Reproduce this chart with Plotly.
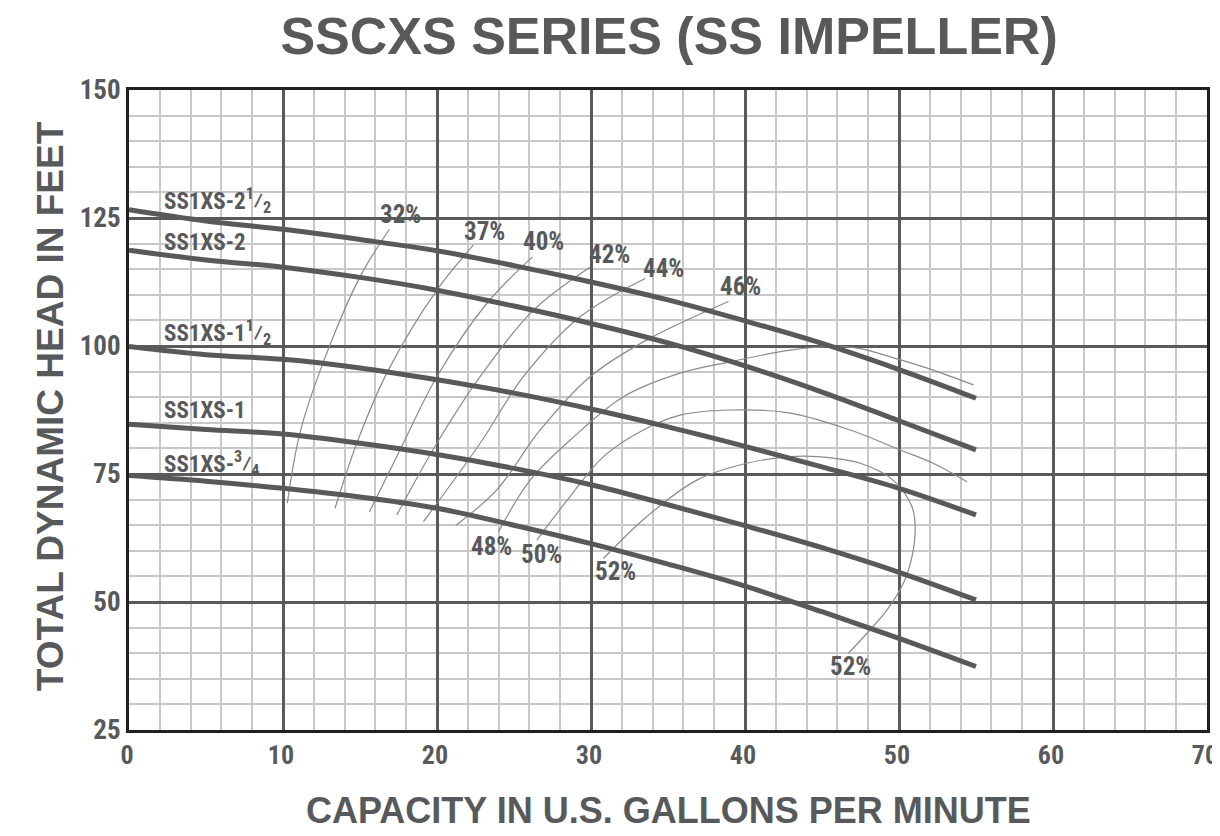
import plotly.graph_objects as go

# ---------------- data ----------------
gpm = [0, 5, 10, 15, 20, 25, 30, 35, 40, 45, 50, 55]
head_2_5 = [126.6, 124.4, 122.8, 120.8, 118.6, 115.7, 112.5, 109.0, 104.9, 100.5, 95.4, 89.8]
head_2 = [118.7, 116.8, 115.4, 113.4, 110.9, 107.8, 104.4, 100.6, 96.1, 91.0, 85.4, 79.7]
head_1_5 = [99.9, 98.3, 97.4, 95.7, 93.4, 90.8, 87.7, 84.2, 80.4, 76.4, 72.2, 67.0]
head_1 = [84.7, 83.7, 82.8, 81.0, 78.8, 76.1, 72.9, 69.0, 64.9, 60.6, 55.8, 50.4]
head_0_75 = [74.7, 73.6, 72.2, 70.5, 68.3, 65.0, 61.4, 57.4, 53.1, 48.1, 42.9, 37.4]

pump_names = ["SS1XS-2<sup>1</sup>⁄<sub>2</sub>", "SS1XS-2", "SS1XS-1<sup>1</sup>⁄<sub>2</sub>",
              "SS1XS-1", "SS1XS-<sup>3</sup>⁄<sub>4</sub>"]
pump_label_x = [2.14, 2.14, 2.14, 2.14, 2.14]
pump_label_y = [128.4, 120.3, 102.7, 87.5, 77.0]

eff32_x = [16.91, 15.00, 12.60, 11.10, 10.28]
eff32_y = [122.8, 113.5, 96.7, 83.0, 69.3]
eff37_x = [22.36, 19.99, 16.74, 14.79, 13.38]
eff37_y = [119.7, 110.9, 94.7, 81.0, 68.3]
eff40_x = [26.20, 23.23, 19.99, 17.60, 15.61]
eff40_y = [117.4, 108.3, 94.0, 79.7, 67.6]
eff42_x = [29.94, 26.26, 22.80, 19.99, 17.39]
eff42_y = [115.4, 107.0, 94.0, 81.0, 67.0]
eff44_x = [33.52, 29.29, 25.61, 22.80, 19.12]
eff44_y = [113.2, 105.7, 94.0, 81.0, 65.7]
eff46_x = [38.93, 33.63, 29.94, 26.70, 23.88, 21.24]
eff46_y = [108.7, 101.2, 94.0, 83.6, 71.9, 65.0]
eff48_x = [23.99, 26.05, 28.64, 32.11, 35.79, 39.04, 42.93, 45.75, 47.48, 50.08, 52.22, 54.84]
eff48_y = [63.7, 73.8, 81.6, 90.1, 94.7, 96.9, 99.2, 99.9, 99.5, 97.3, 95.3, 92.4]
eff50_x = [26.48, 28.64, 30.81, 33.40, 35.79, 39.04, 42.93, 46.83, 50.08, 52.22, 54.41]
eff50_y = [62.1, 70.6, 78.4, 83.6, 86.5, 87.5, 86.9, 83.6, 79.7, 77.1, 73.5]
eff52_x = [30.81, 33.63, 36.87, 40.12, 42.93, 44.67, 47.48, 49.62, 50.84, 51.05, 50.84,
           50.29, 49.21, 47.92, 46.72]
eff52_y = [58.5, 66.7, 73.8, 77.1, 78.4, 78.4, 77.1, 73.8, 68.6, 64.7, 58.8,
           53.7, 48.4, 43.9, 40.0]

eff_labels = ["32%", "37%", "40%", "42%", "44%", "46%", "48%", "50%", "52%", "52%"]
eff_label_x = [17.6, 23.1, 26.9, 31.2, 34.7, 39.7, 23.56, 26.76, 31.57, 46.83]
eff_label_y = [125.6, 122.3, 120.4, 117.8, 115.1, 111.6, 60.8, 59.2, 55.9, 37.4]

x_ticks = [0, 10, 20, 30, 40, 50, 60, 70]
y_ticks = [25, 50, 75, 100, 125, 150]

# ---------------- styling ----------------
DARK = "#58595b"
WIDE = "Liberation Sans, Arial, Helvetica, sans-serif"
NARROW = "Roboto Condensed, Open Sans Condensed, Liberation Sans, Arial, sans-serif"

fig = go.Figure()

eff_sets = [(eff32_x, eff32_y), (eff37_x, eff37_y), (eff40_x, eff40_y), (eff42_x, eff42_y),
            (eff44_x, eff44_y), (eff46_x, eff46_y), (eff48_x, eff48_y), (eff50_x, eff50_y),
            (eff52_x, eff52_y)]
for ex, ey in eff_sets:
    fig.add_trace(go.Scatter(x=ex, y=ey, mode="lines",
                             line=dict(color="#8a8a8a", width=1.2, shape="spline", smoothing=1.0),
                             hoverinfo="skip", showlegend=False))

for hy in [head_2_5, head_2, head_1_5, head_1, head_0_75]:
    fig.add_trace(go.Scatter(x=gpm, y=hy, mode="lines",
                             line=dict(color=DARK, width=5, shape="spline", smoothing=1.0),
                             showlegend=False))

for name, lx, ly in zip(pump_names, pump_label_x, pump_label_y):
    fig.add_annotation(x=lx, y=ly, text=name, showarrow=False, xanchor="left", yanchor="middle",
                       font=dict(family=NARROW, size=23, color=DARK, weight="bold"))

for t, lx, ly in zip(eff_labels, eff_label_x, eff_label_y):
    fig.add_annotation(x=lx, y=ly, text=t, showarrow=False, xanchor="center", yanchor="middle",
                       font=dict(family=NARROW, size=25, color=DARK, weight="bold"))

# axis titles as paper annotations
fig.add_annotation(xref="paper", yref="paper", x=0.5, y=-0.126, text="CAPACITY IN U.S. GALLONS PER MINUTE",
                   showarrow=False, xanchor="center", yanchor="middle",
                   font=dict(family=WIDE, size=36, color=DARK, weight="bold"))
fig.add_annotation(xref="paper", yref="paper", x=-0.0733, y=0.506, text="TOTAL DYNAMIC HEAD IN FEET",
                   textangle=-90, showarrow=False, xanchor="center", yanchor="middle",
                   font=dict(family=WIDE, size=37, color=DARK, weight="bold"))

# page body adds an 8px margin, so the figure is sized to fit the window
fig.update_layout(
    width=1212, height=828,
    margin=dict(l=121, r=13, t=82, b=106, autoexpand=False),
    paper_bgcolor="white", plot_bgcolor="white",
    title=dict(text="SSCXS SERIES (SS IMPELLER)", xref="paper", x=0.501, xanchor="center",
               yref="container", y=0.9665, yanchor="middle",
               font=dict(family=WIDE, size=52, color=DARK, weight="bold")),
)

fig.update_xaxes(
    range=[0, 70], tickvals=x_ticks, ticks="", ticklen=0, automargin=False,
    ticklabeloverflow="allow", ticklabelshift=-2,
    tickfont=dict(family=NARROW, size=26, color=DARK, weight="bold"),
    showgrid=True, gridcolor="#5a5a5a", gridwidth=2.5,
    minor=dict(dtick=2, showgrid=True, gridcolor="#c8c8c8", gridwidth=1.5),
    showline=True, linecolor="#231f20", linewidth=3, mirror=True,
    zeroline=False,
)
fig.update_yaxes(
    range=[25, 150], tickvals=y_ticks, ticks="", ticklen=0, automargin=False,
    ticklabeloverflow="allow",
    tickfont=dict(family=NARROW, size=27, color=DARK, weight="bold"),
    showgrid=True, gridcolor="#5a5a5a", gridwidth=2.5,
    minor=dict(dtick=5, showgrid=True, gridcolor="#c8c8c8", gridwidth=1.5),
    showline=True, linecolor="#231f20", linewidth=3, mirror=True,
    zeroline=False,
)

fig.write_html("out.html")
